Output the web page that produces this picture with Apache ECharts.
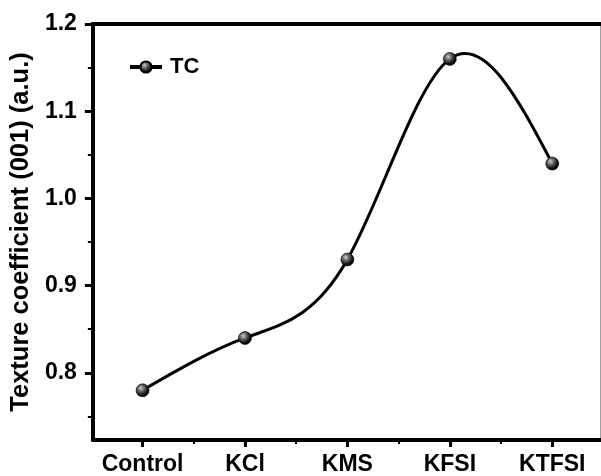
<!DOCTYPE html>
<html>
<head>
<meta charset="utf-8">
<script src="https://cdn.jsdelivr.net/npm/echarts@6/dist/echarts.min.js"></script>
<style>
html,body{margin:0;padding:0;background:#fff;}
#chart{width:601px;height:476px;}
</style>
</head>
<body>
<div id="chart"></div>
<script>
var categories = ['Control', 'KCl', 'KMS', 'KFSI', 'KTFSI'];
var tcValues = [0.78, 0.84, 0.93, 1.16, 1.04];
var yTicks = [0.8, 0.9, 1.0, 1.1, 1.2];
var yMinorTicks = [0.75, 0.85, 0.95, 1.05, 1.15];
var xTicks = [1, 2, 3, 4, 5];
var xMinorTicks = [1.5, 2.5, 3.5, 4.5];

var FONT = '"Liberation Sans", Arial, Helvetica, sans-serif';
var xMin = 0.515, xMax = 5.471, yMin = 0.723, yMax = 1.2;

var points = categories.map(function (c, i) { return [xTicks[i], tcValues[i]]; });

// natural cubic spline (as in the original plotting software), drawn as bezier segments
function splineSecondDerivs(pts) {
  var n = pts.length, M = new Array(n).fill(0);
  if (n < 3) return M;
  var a = [], b = [], c = [], d = [];
  for (var i = 1; i < n - 1; i++) {
    var h0 = pts[i][0] - pts[i - 1][0], h1 = pts[i + 1][0] - pts[i][0];
    a.push(h0); b.push(2 * (h0 + h1)); c.push(h1);
    d.push(6 * ((pts[i + 1][1] - pts[i][1]) / h1 - (pts[i][1] - pts[i - 1][1]) / h0));
  }
  var m = b.length;
  for (var k = 1; k < m; k++) {
    var w = a[k] / b[k - 1];
    b[k] -= w * c[k - 1];
    d[k] -= w * d[k - 1];
  }
  var sol = new Array(m);
  sol[m - 1] = d[m - 1] / b[m - 1];
  for (var k2 = m - 2; k2 >= 0; k2--) sol[k2] = (d[k2] - c[k2] * sol[k2 + 1]) / b[k2];
  for (var j = 0; j < m; j++) M[j + 1] = sol[j];
  return M;
}
var M2 = splineSecondDerivs(points);

var ball = {
  type: 'radial', x: 0.38, y: 0.35, r: 0.65,
  colorStops: [
    {offset: 0, color: '#d0d0d0'},
    {offset: 0.35, color: '#6a6a6a'},
    {offset: 0.75, color: '#151515'},
    {offset: 1, color: '#000'}
  ]
};

var chart = echarts.init(document.getElementById('chart'));
chart.setOption({
  backgroundColor: '#fff',
  animation: false,
  grid: {left: 90, right: 0.5, top: 24, bottom: 36, containLabel: false},
  legend: {
    data: [{name: 'TC', lineStyle: {color: '#000', width: 4, opacity: 1}}],
    left: 123, top: 51, itemWidth: 32, itemHeight: 14,
    textStyle: {fontFamily: FONT, fontWeight: 'bold', fontSize: 22, color: '#000', padding: [0, 0, 0, 3]}
  },
  xAxis: [
    {
      type: 'value', position: 'bottom', min: xMin, max: xMax,
      axisLine: {show: true, lineStyle: {color: '#000', width: 4}},
      axisTick: {show: true, customValues: xTicks, length: 7, lineStyle: {color: '#000', width: 3}},
      axisLabel: {
        customValues: xTicks, margin: 13, color: '#000',
        fontFamily: FONT, fontWeight: 'bold', fontSize: 23,
        formatter: function (v) { return categories[Math.round(v) - 1] || ''; }
      },
      splitLine: {show: false}
    },
    {
      type: 'value', position: 'bottom', min: xMin, max: xMax,
      axisLine: {show: false},
      axisTick: {show: true, customValues: xMinorTicks, length: 4, lineStyle: {color: '#000', width: 2}},
      axisLabel: {show: false},
      splitLine: {show: false}
    },
    {
      type: 'value', position: 'top', min: xMin, max: xMax,
      axisLine: {show: true, lineStyle: {color: '#000', width: 4}},
      axisTick: {show: false}, axisLabel: {show: false}, splitLine: {show: false}
    }
  ],
  yAxis: [
    {
      type: 'value', position: 'left', min: yMin, max: yMax,
      name: 'Texture coefficient (001) (a.u.)', nameLocation: 'middle', nameGap: 52,
      nameTextStyle: {fontFamily: FONT, fontWeight: 'bold', fontSize: 25.5, color: '#000'},
      axisLine: {show: true, lineStyle: {color: '#000', width: 4}},
      axisTick: {show: true, customValues: yTicks, length: 8, lineStyle: {color: '#000', width: 3}},
      axisLabel: {
        customValues: yTicks, margin: 16, color: '#000',
        fontFamily: FONT, fontWeight: 'bold', fontSize: 23,
        formatter: function (v) { return v.toFixed(1); }
      },
      splitLine: {show: false}
    },
    {
      type: 'value', position: 'left', min: yMin, max: yMax,
      axisLine: {show: false},
      axisTick: {show: true, customValues: yMinorTicks, length: 5, lineStyle: {color: '#000', width: 2}},
      axisLabel: {show: false},
      splitLine: {show: false}
    },
    {
      type: 'value', position: 'right', min: yMin, max: yMax,
      axisLine: {show: true, lineStyle: {color: '#a0a0a0', width: 1}},
      axisTick: {show: false}, axisLabel: {show: false}, splitLine: {show: false}
    }
  ],
  series: [
    {
      name: 'TC spline', type: 'custom', xAxisIndex: 0, yAxisIndex: 0, z: 2,
      data: points,
      encode: {x: 0, y: 1},
      renderItem: function (params, api) {
        var i = params.dataIndex;
        if (i >= points.length - 1) return null;
        var p0 = points[i], p1 = points[i + 1];
        var h = p1[0] - p0[0];
        var sl = (p1[1] - p0[1]) / h;
        var d0 = sl - h * (2 * M2[i] + M2[i + 1]) / 6;
        var d1 = sl + h * (M2[i] + 2 * M2[i + 1]) / 6;
        var a = api.coord(p0), b = api.coord(p1);
        var c1 = api.coord([p0[0] + h / 3, p0[1] + d0 * h / 3]);
        var c2 = api.coord([p1[0] - h / 3, p1[1] - d1 * h / 3]);
        return {
          type: 'bezierCurve',
          shape: {x1: a[0], y1: a[1], x2: b[0], y2: b[1], cpx1: c1[0], cpy1: c1[1], cpx2: c2[0], cpy2: c2[1]},
          style: {stroke: '#000', lineWidth: 3, fill: null},
          silent: true
        };
      }
    },
    {
      name: 'TC', type: 'line', xAxisIndex: 0, yAxisIndex: 0, z: 3,
      data: points,
      symbol: 'circle', symbolSize: 13,
      lineStyle: {color: '#000', width: 3, opacity: 0},
      itemStyle: {color: ball, borderColor: '#000', borderWidth: 0.6}
    }
  ]
});
</script>
</body>
</html>
